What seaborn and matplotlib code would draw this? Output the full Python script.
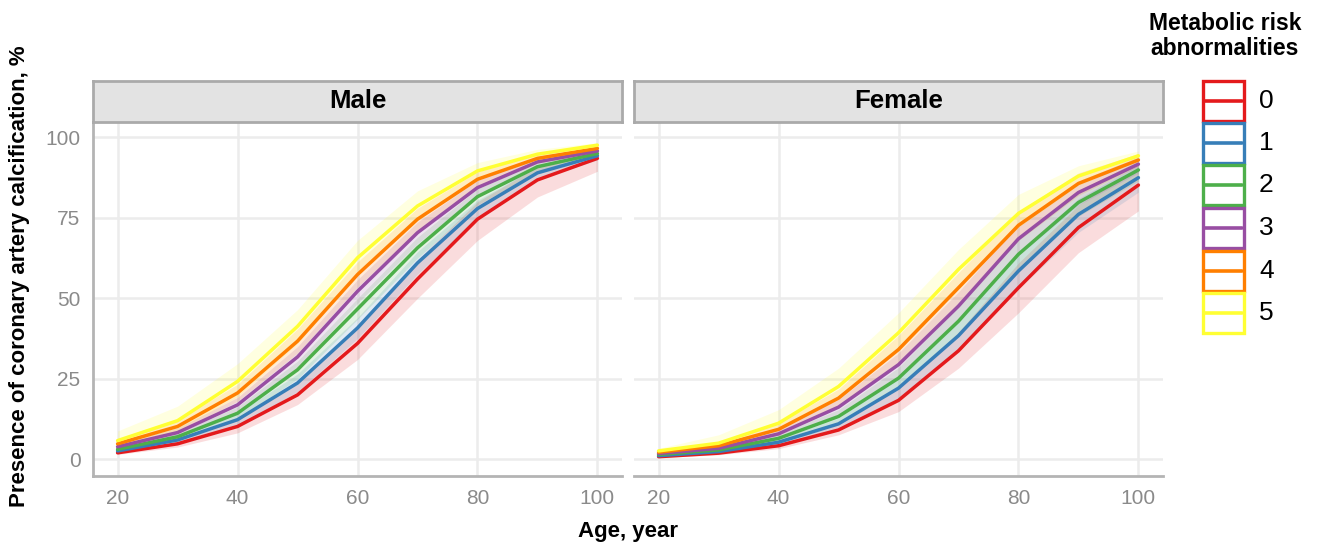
import pandas as pd
import matplotlib.pyplot as plt
import seaborn as sns
from matplotlib.patches import Rectangle
from matplotlib.lines import Line2D

# ========== Data ==========
ages = [20, 30, 40, 50, 60, 70, 80, 90, 100]
risk_levels = ["0", "1", "2", "3", "4", "5"]
sexes = ["Male", "Female"]

# predicted presence of CAC (%), one list per number of abnormalities
male_pct = [
    [2.0, 4.8, 10.2, 20.0, 36.0, 56.0, 74.6, 86.8, 93.5],
    [2.6, 6.0, 12.3, 23.7, 40.8, 61.0, 77.9, 89.0, 94.3],
    [3.1, 7.0, 14.3, 27.8, 46.7, 65.7, 81.6, 90.9, 95.0],
    [3.9, 8.3, 16.9, 31.8, 52.2, 70.4, 84.4, 92.4, 95.8],
    [4.8, 10.2, 20.6, 36.7, 57.4, 74.6, 87.0, 93.5, 96.6],
    [5.8, 12.0, 24.2, 41.3, 62.6, 78.7, 89.6, 94.8, 97.6],
]
male_lo = [
    [1.5, 3.8, 8.2, 17.0, 31.0, 50.0, 68.0, 81.5, 89.5],
    [2.0, 5.0, 10.5, 21.0, 37.5, 57.5, 75.0, 87.0, 93.0],
    [2.5, 6.0, 12.5, 25.0, 43.5, 62.5, 79.0, 89.5, 94.0],
    [3.1, 7.0, 14.8, 28.5, 48.5, 67.0, 82.0, 91.0, 94.8],
    [3.8, 8.5, 18.0, 33.0, 53.5, 71.0, 84.5, 92.0, 95.5],
    [4.0, 9.0, 19.5, 36.0, 57.5, 74.5, 87.0, 93.0, 96.6],
]
male_hi = [
    [2.6, 6.0, 12.3, 23.5, 41.0, 62.0, 80.0, 91.0, 96.0],
    [3.3, 7.2, 14.3, 26.5, 44.0, 64.5, 80.5, 91.0, 95.5],
    [3.8, 8.2, 16.3, 30.5, 50.0, 69.0, 84.0, 92.3, 96.0],
    [4.8, 9.8, 19.2, 35.0, 55.8, 73.7, 86.7, 93.8, 96.8],
    [6.0, 12.2, 23.3, 40.5, 61.3, 78.0, 89.3, 95.0, 97.6],
    [8.8, 16.5, 29.7, 46.5, 68.0, 83.4, 92.2, 96.3, 98.4],
]

female_pct = [
    [0.8, 1.9, 4.2, 9.1, 18.3, 33.7, 53.3, 72.0, 85.2],
    [1.1, 2.4, 5.3, 11.0, 22.1, 38.4, 58.5, 76.1, 87.5],
    [1.5, 2.9, 6.5, 13.3, 25.2, 42.9, 63.7, 79.8, 89.9],
    [1.8, 3.4, 7.9, 16.2, 29.4, 47.6, 68.5, 82.9, 91.7],
    [2.2, 4.2, 9.3, 19.0, 34.1, 53.3, 72.7, 85.7, 93.0],
    [2.6, 5.0, 11.2, 22.6, 39.3, 59.0, 76.4, 88.0, 94.3],
]
female_lo = [
    [0.5, 1.4, 3.3, 7.6, 14.8, 28.3, 45.5, 64.2, 77.2],
    [0.8, 1.8, 4.3, 9.3, 19.0, 34.0, 53.0, 70.5, 83.0],
    [1.1, 2.3, 5.3, 11.4, 22.0, 38.5, 58.5, 75.5, 86.5],
    [1.3, 2.7, 6.5, 14.0, 26.0, 43.0, 63.5, 79.0, 89.0],
    [1.6, 3.3, 7.6, 16.4, 30.0, 48.5, 68.0, 82.0, 91.0],
    [1.9, 3.8, 9.0, 19.5, 35.0, 54.0, 72.0, 85.0, 92.8],
]
female_hi = [
    [1.2, 2.5, 5.2, 10.8, 22.0, 39.5, 61.0, 79.0, 91.0],
    [1.5, 3.0, 6.4, 12.8, 25.5, 43.0, 64.0, 81.0, 91.5],
    [2.0, 3.6, 7.8, 15.4, 28.5, 47.5, 68.5, 83.5, 92.8],
    [2.4, 4.2, 9.5, 18.6, 33.0, 52.0, 73.0, 86.5, 94.0],
    [2.9, 5.3, 11.2, 21.8, 38.5, 58.0, 77.0, 89.0, 95.0],
    [3.4, 7.6, 15.4, 28.3, 45.5, 65.2, 82.3, 91.2, 95.8],
]

# ========== Long table ==========
rows = []
for sex, pct, lo, hi in [("Male", male_pct, male_lo, male_hi),
                         ("Female", female_pct, female_lo, female_hi)]:
    for k, lvl in enumerate(risk_levels):
        for j, age in enumerate(ages):
            rows.append({"sex": sex, "risk": lvl, "age": age,
                         "pct": pct[k][j], "lo": lo[k][j], "hi": hi[k][j]})
df = pd.DataFrame(rows)

# ========== Style ==========
sns.set_theme(style="whitegrid")
plt.rcParams["font.family"] = ["Liberation Sans", "DejaVu Sans"]
plt.rcParams["text.color"] = "black"
palette = dict(zip(risk_levels, sns.color_palette("Set1", 6)))

W, H = 1322, 545
fig = plt.figure(figsize=(W / 100, H / 100), dpi=100)

panel_left = [93, 634]
panel_w = 529
panel_top, panel_bot = 122, 476
strip_top = 81
axis_grey = "#b4b4b4"

for i, sex in enumerate(sexes):
    ax = fig.add_axes([panel_left[i] / W, 1 - panel_bot / H,
                       panel_w / W, (panel_bot - panel_top) / H])
    sub = df[df["sex"] == sex]
    for lvl in risk_levels:
        g = sub[sub["risk"] == lvl]
        ax.fill_between(g["age"], g["lo"], g["hi"], color=palette[lvl],
                        alpha=0.15, lw=0, zorder=2)
    sns.lineplot(data=sub, x="age", y="pct", hue="risk", palette=palette,
                 lw=2.5, errorbar=None, legend=False, ax=ax, zorder=3)

    ax.set_xlim(15.9, 104.1)
    ax.set_ylim(-5.2, 104.8)
    ax.set_xticks([20, 40, 60, 80, 100])
    ax.set_yticks([0, 25, 50, 75, 100])
    ax.set_xlabel("")
    ax.set_ylabel("")
    ax.set_facecolor("white")
    ax.grid(True, color="#ececec", lw=1.8)
    ax.tick_params(length=0, labelsize=15, labelcolor="#8a8a8a", pad=9)
    for side in ["top", "right", "left", "bottom"]:
        ax.spines[side].set_visible(False)
    ax.spines["bottom"].set_visible(True)
    ax.spines["bottom"].set_color(axis_grey)
    ax.spines["bottom"].set_linewidth(2)
    if i == 0:
        ax.spines["left"].set_visible(True)
        ax.spines["left"].set_color(axis_grey)
        ax.spines["left"].set_linewidth(2)
    else:
        ax.set_yticklabels([])

    # facet strip
    sax = fig.add_axes([panel_left[i] / W, 1 - panel_top / H,
                        panel_w / W, (panel_top - strip_top) / H])
    sax.set_facecolor("#e3e3e3")
    sax.set_xticks([])
    sax.set_yticks([])
    sax.grid(False)
    for side in sax.spines:
        sax.spines[side].set_visible(True)
        sax.spines[side].set_color("#aaaaaa")
        sax.spines[side].set_linewidth(2)
    sax.text(0.5, 0.5, sex, ha="center", va="center", fontsize=18.5,
             fontweight="bold", color="black", transform=sax.transAxes)

# axis titles
fig.text(628 / W, 1 - 532 / H, "Age, year", ha="center", va="center",
         fontsize=16, fontweight="bold", color="black")
fig.text(20 / W, 1 - 276 / H, "Presence of coronary artery calcification, %",
         ha="center", va="center", rotation=90, fontsize=16,
         fontweight="bold", color="black")

# legend
fig.text(1225 / W, 1 - 36 / H, "Metabolic risk\nabnormalities", ha="center",
         va="center", fontsize=16.5, fontweight="bold", linespacing=1.1,
         color="black")
key_x, key_w, key_h = 1203, 41, 40
key_centres = [100.5, 143, 185.5, 228, 270.5, 313]
for lvl, cy in zip(risk_levels, key_centres):
    c = palette[lvl]
    fig.add_artist(Rectangle((key_x / W, 1 - (cy + key_h / 2) / H), key_w / W,
                             key_h / H, transform=fig.transFigure,
                             facecolor="white", edgecolor=c, lw=2.4))
    fig.add_artist(Line2D([(key_x + 2) / W, (key_x + key_w - 2) / W],
                          [1 - cy / H, 1 - cy / H], transform=fig.transFigure,
                          color=c, lw=2.6))
    fig.text(1259 / W, 1 - cy / H, lvl, ha="left", va="center", fontsize=19,
             color="black")

fig.savefig("out.png", dpi=100, facecolor="white")
